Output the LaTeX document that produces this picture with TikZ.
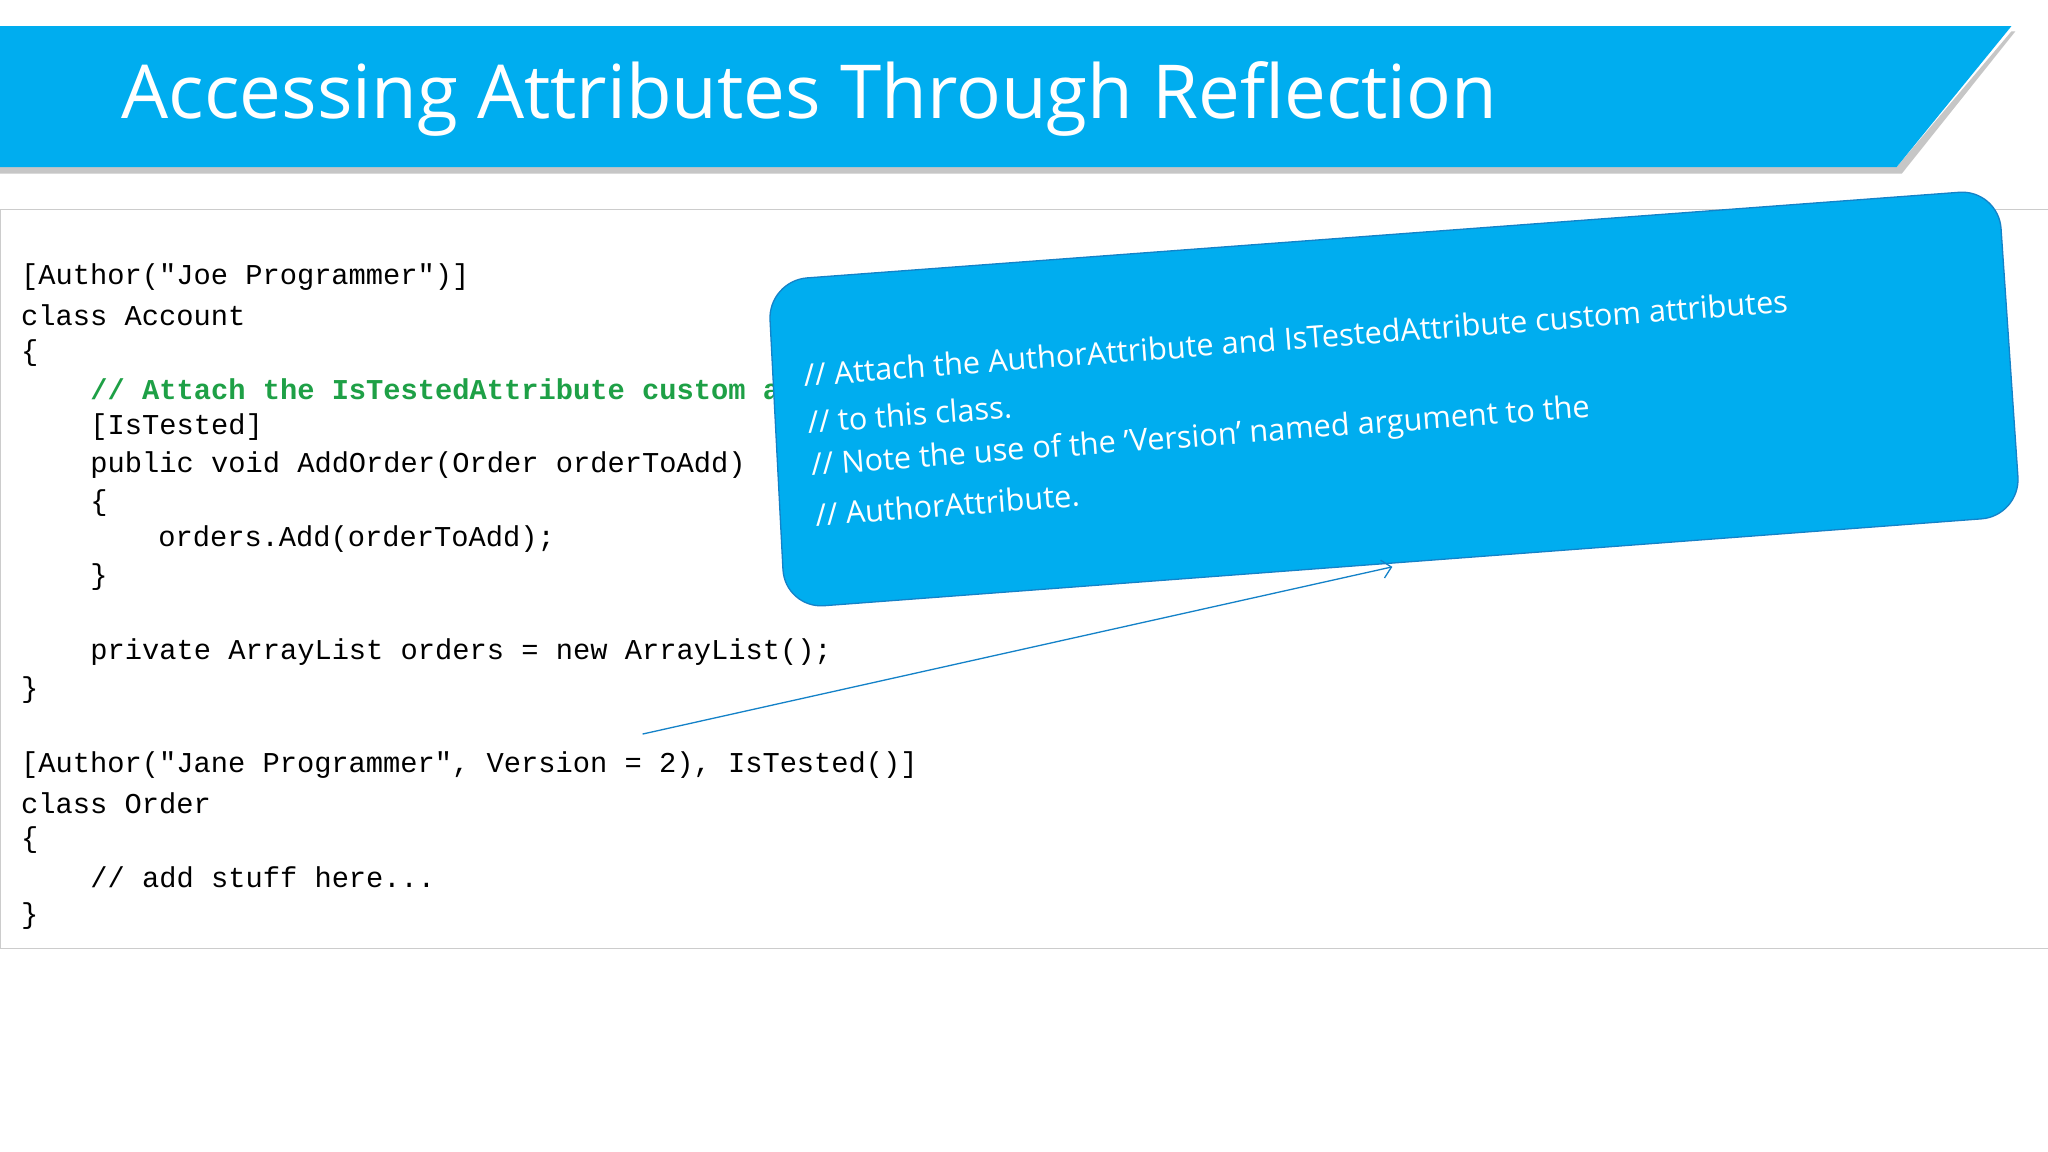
\documentclass[tikz,border=0pt]{standalone}
\usepackage{fontspec}
\setmainfont{Open Sans}
\setmonofont{Liberation Mono}
\usetikzlibrary{arrows.meta}
\definecolor{sky}{RGB}{0,173,239}
\definecolor{skyd}{RGB}{20,130,200}
\definecolor{cgreen}{RGB}{30,160,70}
\tikzset{code/.style={anchor=west,inner sep=0pt,font=\fontsize{22}{22}\selectfont\ttfamily},
 note/.style={anchor=west,inner sep=0pt,text=white,rotate=4.3,font=\fontsize{23.5}{23.5}\selectfont}}
\begin{document}
\begin{tikzpicture}[x=1pt,y=-1pt]
\useasboundingbox (0,0) rectangle (1568,882);
\fill[white] (0,0) rectangle (1568,882);
% banner
\fill[gray!45] (0,128) -- (1452,128) -- (1540,24) -- (1543,24) -- (1456,133) -- (0,133) -- cycle;
\fill[sky] (0,20) -- (1540,20) -- (1452,128) -- (0,128) -- cycle;
\node[anchor=west,text=white,inner sep=0pt,font=\fontsize{57}{57}\selectfont] (title) at (93,76) {Accessing Attributes Through Reflection};
% code box
\draw[gray!40] (0,160) rectangle (1568,726);
\node[code] (l1) at (16,212) {[Author("Joe Programmer")]};
\node[code] (l2) at (16,241) {class Account};
\node[code] (l3) at (16,270) {\{};
\node[code,text=cgreen,font=\fontsize{22}{22}\selectfont\ttfamily\bfseries] (l4) at (69,298) {// Attach the IsTestedAttribute custom attribute};
\node[code] (l5) at (69,327) {[IsTested]};
\node[code] (l6) at (69,356) {public void AddOrder(Order orderToAdd)};
\node[code] (l7) at (69,385) {\{};
\node[code] (l8) at (121,413) {orders.Add(orderToAdd);};
\node[code] (l9) at (69,442) {\}};
\node[code] (l10) at (69,499) {private ArrayList orders = new ArrayList();};
\node[code] (l11) at (16,528) {\}};
\node[code] (l12) at (16,586) {[Author("Jane Programmer", Version = 2), IsTested()]};
\node[code] (l13) at (16,615) {class Order};
\node[code] (l14) at (16,643) {\{};
\node[code] (l15) at (69,672) {// add stuff here...};
\node[code] (l16) at (16,701) {\}};
% callout
\draw[skyd,fill=sky,line width=1pt,rounded corners=30pt] (588,215) -- (1530,145) -- (1547,395) -- (601,466) -- cycle;
\node[note] (n1) at (615,287) {// Attach the AuthorAttribute and IsTestedAttribute custom attributes};
\node[note] (n2) at (618,323) {// to this class.};
\node[note] (n3) at (621,358) {// Note the use of the 'Version' named argument to the};
\node[note] (n4) at (624,394) {// AuthorAttribute.};
\coordinate (as) at (492,562);
\coordinate (ae) at (1066,434);
\draw[skyd,line width=1pt,-{Straight Barb[length=7pt]}] (as) -- (ae);
\end{tikzpicture}
\end{document}
